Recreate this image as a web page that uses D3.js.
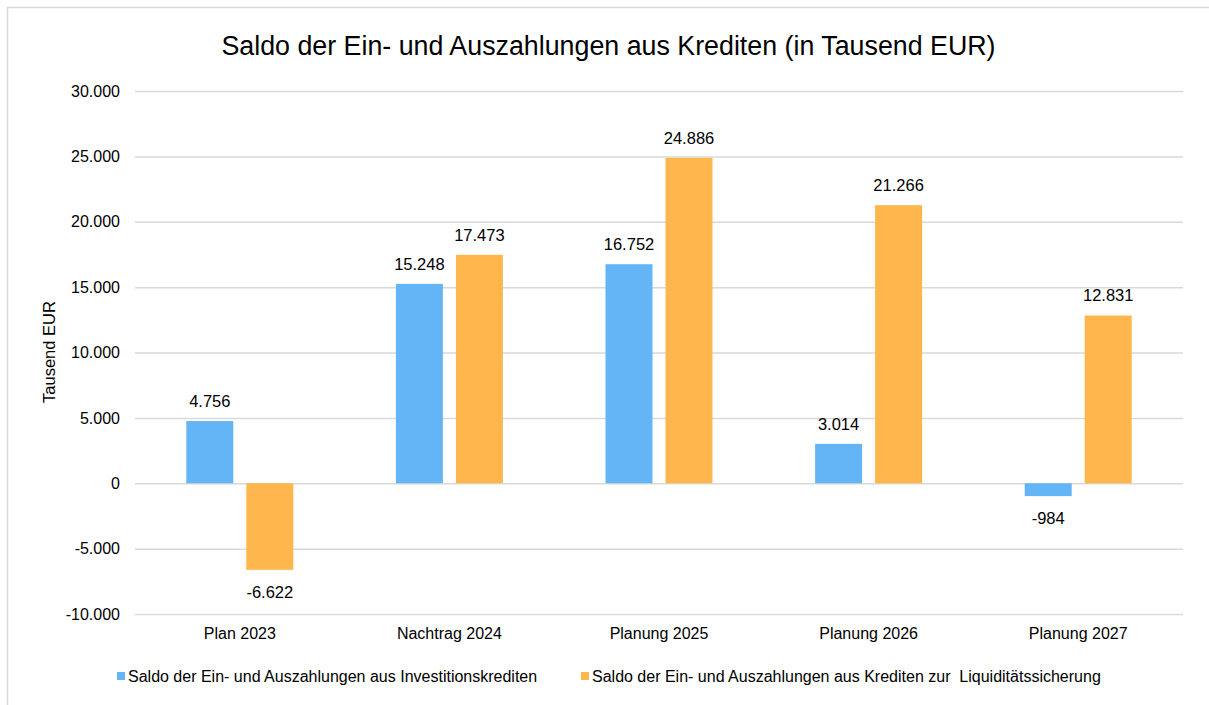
<!DOCTYPE html>
<html><head><meta charset="utf-8">
<script src="https://cdn.jsdelivr.net/npm/d3@7"></script>
<style>body{margin:0;background:#fff}text{font-family:"Liberation Sans",Arial,sans-serif;fill:#000}</style>
</head><body><svg id="c" width="1209" height="705"></svg>
<script>
const categories = ["Plan 2023","Nachtrag 2024","Planung 2025","Planung 2026","Planung 2027"];
const seriesNames = ["Saldo der Ein- und Auszahlungen aus Investitionskrediten","Saldo der Ein- und Auszahlungen aus Krediten zur  Liquiditätssicherung"];
const investValues = [4756, 15248, 16752, 3014, -984];
const liquidValues = [-6622, 17473, 24886, 21266, 12831];
const yTicks = [-10000,-5000,0,5000,10000,15000,20000,25000,30000];
const colors = ["#64B5F6","#FFB74D"];

const svg = d3.select("#c");
const fmt = v => { const s = Math.abs(v).toString().replace(/\B(?=(\d{3})+(?!\d))/g, "."); return (v<0?"-":"")+s; };

svg.append("rect").attr("x",7.5).attr("y",7.5).attr("width",1210).attr("height",710)
  .attr("fill","none").attr("stroke","#d9d9d9").attr("stroke-width",1.5);

const x0 = d3.scaleBand().domain(categories).range([135,1183]);
const y = d3.scaleLinear().domain([-10000,30000]).range([614,91]);

svg.append("text").attr("x",608.5).attr("y",55).attr("text-anchor","middle").style("font-size","26.8px")
  .text("Saldo der Ein- und Auszahlungen aus Krediten (in Tausend EUR)");

const gy = svg.append("g").attr("transform","translate(135,0)")
  .call(d3.axisLeft(y).tickValues(yTicks).tickFormat(fmt).tickSize(-1048).tickPadding(15));
gy.select(".domain").remove();
gy.selectAll(".tick line").attr("stroke","#d9d9d9").attr("stroke-width",1.5);
gy.selectAll(".tick text").style("font-size","16px").style("font-family","Liberation Sans, Arial, sans-serif").attr("fill","#000");

const gx = svg.append("g").attr("transform","translate(0,614)")
  .call(d3.axisBottom(x0).tickSize(0).tickPadding(14));
gx.select(".domain").remove();
gx.selectAll(".tick text").style("font-size","16px").style("font-family","Liberation Sans, Arial, sans-serif").attr("fill","#000");

svg.append("text").attr("transform","translate(55,352) rotate(-90)").attr("text-anchor","middle")
  .style("font-size","16.5px").text("Tausend EUR");

const barW = 47, gap = 13;
const series = [investValues, liquidValues];
series.forEach((vals, si) => {
  const g = svg.append("g");
  categories.forEach((c, i) => {
    const cx = x0(c) + x0.bandwidth()/2;
    const bx = si === 0 ? cx - gap/2 - barW : cx + gap/2;
    const v = vals[i];
    g.append("rect").attr("x",bx).attr("width",barW)
      .attr("y", Math.min(y(v), y(0))).attr("height", Math.abs(y(v)-y(0)))
      .attr("fill", colors[si]);
    g.append("text").attr("x",bx+barW/2)
      .attr("y", v >= 0 ? y(v) - 14 : y(v) + 28)
      .attr("text-anchor","middle").style("font-size","16.5px").text(fmt(v));
  });
});

const legX = [117, 581];
seriesNames.forEach((n, i) => {
  svg.append("rect").attr("x",legX[i]).attr("y",672).attr("width",8).attr("height",8).attr("fill",colors[i]);
  svg.append("text").attr("x",legX[i]+11).attr("y",682).style("font-size","16px")
    .attr("xml:space","preserve").style("white-space","pre").text(n);
});
</script></body></html>
